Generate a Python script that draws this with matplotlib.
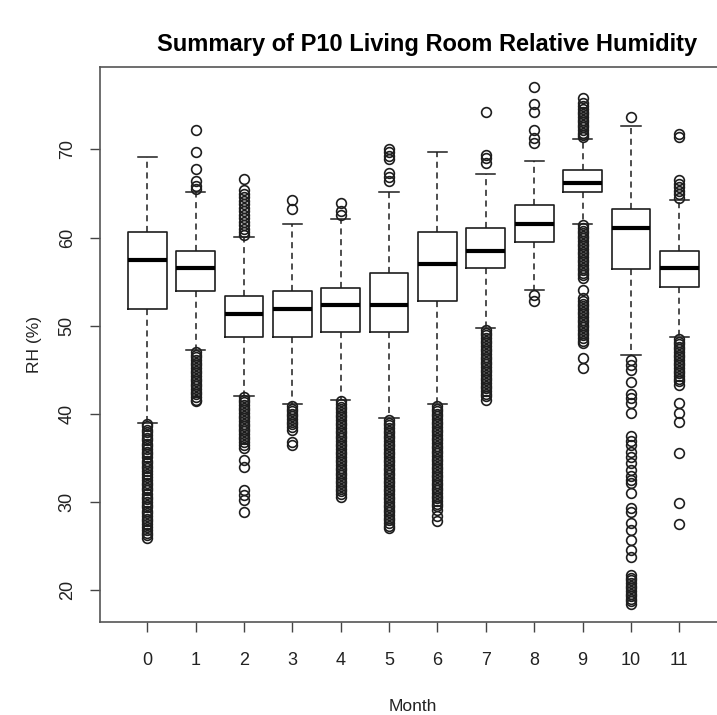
import matplotlib
matplotlib.use("Agg")
import matplotlib.pyplot as plt

plt.rcParams['font.family'] = ['Liberation Sans', 'DejaVu Sans']

months = list(range(12))
# box stats
whislo = [39.0, 47.2, 42.0, 41.1, 41.6, 39.5, 41.1, 49.7, 54.0, 61.6, 46.7, 48.75]
q1     = [51.9, 53.9, 48.75, 48.75, 49.25, 49.25, 52.8, 56.5, 59.5, 65.2, 56.4, 54.4]
med    = [57.5, 56.5, 51.3, 51.9, 52.3, 52.3, 57.0, 58.5, 61.6, 66.2, 61.1, 56.5]
q3     = [60.6, 58.5, 53.4, 53.9, 54.3, 55.95, 60.6, 61.1, 63.7, 67.7, 63.2, 58.5]
whishi = [69.2, 65.2, 60.1, 61.6, 62.1, 65.2, 69.7, 67.2, 68.7, 71.2, 72.7, 64.3]

out0 = [38.9, 38.6, 38.2, 37.9, 37.6, 37.3, 37.0, 36.6, 36.3, 36.0, 35.7, 35.4, 35.1,
        34.7, 34.4, 34.1, 33.8, 33.5, 33.2, 32.8, 32.5, 32.2, 31.9, 31.6, 31.3, 30.9,
        30.6, 30.3, 30.0, 29.7, 29.4, 29.0, 28.7, 28.4, 28.1, 27.8, 27.5, 27.1, 26.8,
        26.5, 26.2, 25.9]
out1 = [72.2, 69.7, 67.8, 66.4, 65.9, 65.5,
        47.0, 46.7, 46.4, 46.1, 45.8, 45.5, 45.2, 44.9, 44.6, 44.3, 44.0, 43.7, 43.4,
        43.1, 42.8, 42.5, 42.2, 41.9, 41.6, 41.4]
out2 = [66.7, 65.4, 65.0, 64.6, 64.2, 63.8, 63.4, 63.0, 62.6, 62.2, 61.8, 61.4, 61.0,
        60.6, 60.3,
        41.9, 41.6, 41.3, 41.0, 40.7, 40.4, 40.1, 39.8, 39.5, 39.2, 38.9, 38.6, 38.3,
        38.0, 37.7, 37.4, 37.1, 36.8, 36.5, 36.1, 34.8, 34.0, 31.4, 30.8, 30.2, 28.9]
out3 = [64.3, 63.2,
        40.9, 40.6, 40.3, 40.0, 39.7, 39.4, 39.1, 38.8, 38.5, 38.2, 36.8, 36.5]
out4 = [63.9, 63.0, 62.6,
        41.4, 41.1, 40.8, 40.5, 40.2, 39.9, 39.6, 39.3, 39.0, 38.7, 38.4, 38.1, 37.8,
        37.5, 37.2, 36.9, 36.6, 36.3, 36.0, 35.7, 35.4, 35.1, 34.8, 34.5, 34.2, 33.9,
        33.6, 33.3, 33.0, 32.7, 32.4, 32.1, 31.8, 31.5, 31.2, 30.9, 30.6]
out5 = [70.0, 69.7, 69.3, 68.9, 67.3, 66.9, 66.4,
        39.3, 39.0, 38.7, 38.4, 38.1, 37.8, 37.5, 37.2, 36.9, 36.6, 36.3, 36.0, 35.7,
        35.4, 35.1, 34.8, 34.5, 34.2, 33.9, 33.6, 33.3, 33.0, 32.7, 32.4, 32.1, 31.8,
        31.5, 31.2, 30.9, 30.6, 30.3, 30.0, 29.7, 29.4, 29.1, 28.8, 28.5, 28.2, 27.9,
        27.6, 27.3, 27.0]
out6 = [40.9, 40.6, 40.3, 40.0, 39.7, 39.4, 39.1, 38.8, 38.5, 38.2, 37.9, 37.6, 37.3,
        37.0, 36.7, 36.4, 36.1, 35.8, 35.5, 35.2, 34.9, 34.6, 34.3, 34.0, 33.7, 33.4,
        33.1, 32.8, 32.5, 32.2, 31.9, 31.6, 31.3, 31.0, 30.7, 30.4, 30.1, 29.8, 29.5,
        29.1, 28.4, 27.8]
out7 = [74.2, 69.4, 69.0, 68.5,
        49.5, 49.2, 48.9, 48.6, 48.3, 48.0, 47.7, 47.4, 47.1, 46.8, 46.5, 46.2, 45.9,
        45.6, 45.3, 45.0, 44.7, 44.4, 44.1, 43.8, 43.5, 43.2, 42.9, 42.6, 42.3, 42.0,
        41.6]
out8 = [77.1, 75.2, 74.3, 72.2, 71.3, 70.7, 53.5, 52.8]
out9 = [75.8, 75.3, 74.9, 74.6, 74.3, 74.0, 73.7, 73.4, 73.1, 72.8, 72.5, 72.2, 71.9,
        71.6, 71.4,
        61.4, 61.1, 60.8, 60.5, 60.2, 59.9, 59.6, 59.3, 59.0, 58.7, 58.4, 58.1, 57.8,
        57.5, 57.2, 56.9, 56.6, 56.3, 56.0, 55.7, 55.4, 54.0,
        53.1, 52.8, 52.5, 52.2, 51.9, 51.6, 51.3, 51.0, 50.7, 50.4, 50.1, 49.8, 49.5,
        49.2, 48.9, 48.6, 48.3, 48.0, 46.3, 45.2]
out10 = [73.7,
         46.1, 45.5, 45.0, 43.6, 42.3, 41.8, 41.2, 40.1, 37.5, 36.9, 36.5, 35.7, 35.1,
         34.4, 33.6, 32.9, 32.5, 32.1, 31.0, 29.3, 28.9, 27.6, 26.8, 25.7, 24.5, 23.8,
         21.7, 21.4, 21.1, 20.8, 20.5, 20.2, 19.9, 19.6, 19.3, 19.0, 18.7, 18.4]
out11 = [71.8, 71.4, 66.5, 66.1, 65.7, 65.3, 64.9, 64.5,
         48.5, 48.2, 47.9, 47.6, 47.3, 47.0, 46.7, 46.4, 46.1, 45.8, 45.5, 45.2, 44.9,
         44.6, 44.3, 44.0, 43.7, 43.3, 41.2, 40.1, 39.1, 35.6, 29.9, 27.5]
outliers = [out0, out1, out2, out3, out4, out5, out6, out7, out8, out9, out10, out11]

stats = []
for i in range(len(months)):
    stats.append(dict(whislo=whislo[i], q1=q1[i], med=med[i], q3=q3[i],
                      whishi=whishi[i], fliers=outliers[i], label=str(months[i])))

fig = plt.figure(figsize=(7.17, 7.15), dpi=100)
ax = fig.add_axes([100/717, 1 - 622/715, 626.6/717, (622 - 66.5)/715])

lc = '#1e1e1e'
ax.bxp(stats, positions=months, widths=0.8, capwidths=0.4,
       boxprops=dict(color=lc, linewidth=1.2),
       medianprops=dict(color='black', linewidth=3.0),
       whiskerprops=dict(color=lc, linewidth=1.1, linestyle=(0, (4, 3))),
       capprops=dict(color=lc, linewidth=1.1),
       flierprops=dict(marker='o', markerfacecolor='none', markeredgecolor=lc,
                       markersize=7, markeredgewidth=1.2))

ax.set_xlim(-0.98, 11.98)
ax.set_ylim(16.37, 79.42)
ax.set_yticks([20, 30, 40, 50, 60, 70])
ax.set_xticks(months)
ax.set_xticklabels([str(m) for m in months])
for lab in ax.get_yticklabels():
    lab.set_rotation(90)
    lab.set_va('center')
ax.tick_params(axis='both', direction='out', length=7.5, width=1, colors='#444444',
               labelsize=13, labelcolor='#222222')
ax.tick_params(axis='x', pad=14)
ax.tick_params(axis='y', pad=10)
for s in ax.spines.values():
    s.set_color('#555555')
    s.set_linewidth(1.2)

ax.set_xlabel('Month', fontsize=12.5, color='#222222', labelpad=22)
ax.set_ylabel('RH (%)', fontsize=12.5, color='#222222', labelpad=12)
fig.text(427/717, 1 - 45/715, 'Summary of P10 Living Room Relative Humidity',
         ha='center', va='center', fontsize=17, fontweight='bold')

fig.savefig('out.png', dpi=100)
